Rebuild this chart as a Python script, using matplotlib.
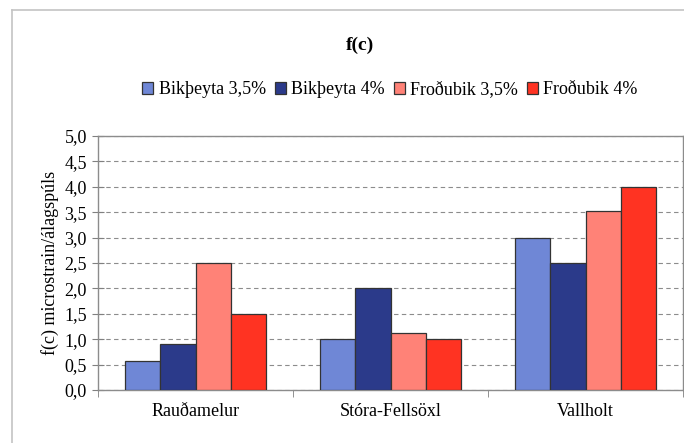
import matplotlib
matplotlib.use("Agg")
import matplotlib.pyplot as plt
import numpy as np
from matplotlib.lines import Line2D

categories = ["Rauðamelur", "Stóra-Fellsöxl", "Vallholt"]
series_names = ["Bikþeyta 3,5%", "Bikþeyta 4%", "Froðubik 3,5%", "Froðubik 4%"]
bik35 = [0.58, 1.0, 3.0]
bik4 = [0.9, 2.0, 2.5]
frod35 = [2.5, 1.12, 3.52]
frod4 = [1.5, 1.0, 4.0]
yticks = [0.0, 0.5, 1.0, 1.5, 2.0, 2.5, 3.0, 3.5, 4.0, 4.5, 5.0]
ytick_labels = ["0,0", "0,5", "1,0", "1,5", "2,0", "2,5", "3,0", "3,5", "4,0", "4,5", "5,0"]

colors = ["#6f87d6", "#2b3a8a", "#ff8277", "#ff3322"]

plt.rcParams['font.family'] = ['Liberation Serif', 'DejaVu Serif']

fig = plt.figure(figsize=(6.84, 4.43), dpi=100)
fig.patch.set_facecolor("white")

# chart area border (left and top only visible)
fig.add_artist(Line2D([12/684, 12/684], [0, 1 - 10/443], color="#c4c4c4", lw=1.2, transform=fig.transFigure))
fig.add_artist(Line2D([12/684, 1], [1 - 10/443, 1 - 10/443], color="#c4c4c4", lw=1.2, transform=fig.transFigure))

ax = fig.add_axes([98/684, 53/443, 585/684, 254/443])
x = np.arange(len(categories))
w = 0.182
data = [bik35, bik4, frod35, frod4]
for i, (vals, name, c) in enumerate(zip(data, series_names, colors)):
    ax.bar(x + (i - 1.5) * w, vals, width=w, color=c, edgecolor="#333333", linewidth=0.9,
           label=name, zorder=3)

ax.set_xlim(-0.5, len(categories) - 0.5)
ax.set_ylim(0, 5)
ax.set_yticks(yticks)
ax.set_yticklabels(ytick_labels, fontsize=13)
ax.set_xticks(x)
ax.set_xticklabels(categories, fontsize=13)
ax.set_xticks(np.arange(len(categories) + 1) - 0.5, minor=True)
ax.tick_params(axis='x', which='major', length=0, pad=9)
ax.tick_params(axis='x', which='minor', length=5, color="#808080", direction='out')
ax.tick_params(axis='y', which='major', direction='inout', length=8, color="#808080", pad=4)

ax.yaxis.grid(True, linestyle=(0, (4, 3)), color="#8c8c8c", linewidth=0.8, zorder=0)
for s in ax.spines.values():
    s.set_color("#8c8c8c")
    s.set_linewidth(1.0)

ax.set_ylabel("f(c) microstrain/álagspúls", fontsize=13, labelpad=4)

fig.text(360/684, 1 - 45/443, "f(c)", ha="center", va="center", fontsize=14, fontweight="bold")

leg = fig.legend(loc="center", bbox_to_anchor=(390/684, 1 - 90/443), ncol=4, fontsize=13,
                 frameon=False, handlelength=0.6, handleheight=0.6, handletextpad=0.3,
                 columnspacing=0.5, borderaxespad=0)

fig.savefig("out.png", dpi=100, facecolor="white")
